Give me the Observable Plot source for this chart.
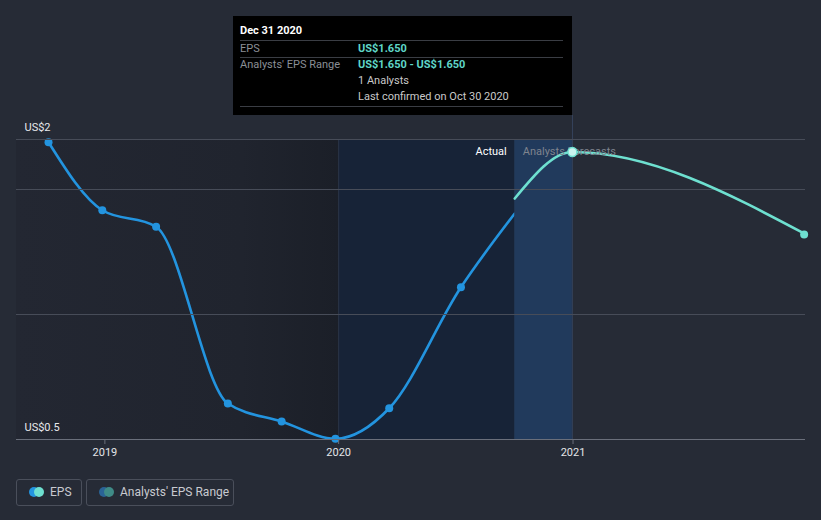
<!DOCTYPE html>
<html>
<head>
<meta charset="utf-8">
<script src="https://cdn.jsdelivr.net/npm/d3@7"></script>
<script src="https://cdn.jsdelivr.net/npm/@observablehq/plot@0.6"></script>
<style>
  html, body { margin: 0; padding: 0; background: #262b36; }
  body { width: 821px; height: 520px; position: relative; overflow: hidden; font-family: Roboto, "Noto Sans", sans-serif; }
  #chart { position: absolute; left: 0; top: 0; }
  #tip { position: absolute; left: 233px; top: 16px; width: 339px; height: 99px; background: #000; font-size: 11px; }
  #tip .row { position: absolute; left: 7px; right: 9px; }
  #tip .sep { position: absolute; left: 7px; right: 9px; height: 1px; background: #3a3d44; }
  #tip .lab { position: absolute; left: 0; color: #8b8f96; }
  #tip .val { position: absolute; left: 118px; color: #c9c9c9; }
  #tip .teal { color: #5fd6c8; font-weight: bold; }
  #hover { position: absolute; left: 572px; top: 115px; width: 1px; height: 24px; background: #34415a; }
  #legend { position: absolute; left: 0; top: 470px; width: 821px; height: 50px; }
  .lbox { position: absolute; top: 9px; height: 27px; border: 1px solid #4a4f5b; border-radius: 3px; color: #c8cad0; font-size: 12px; line-height: 25px; box-sizing: border-box; }
  .dot { position: absolute; top: 7px; width: 10px; height: 10px; border-radius: 5px; }
</style>
</head>
<body>
<div id="chart"></div>
<div id="hover"></div>
<div id="tip"></div>
<div id="legend"></div>
<script>
// ---- data ----
const actualDates = ["2018-10-05","2018-12-28","2019-03-22","2019-07-12","2019-10-04","2019-12-27","2020-03-20","2020-07-10","2020-10-02"];
const actualEPS   = [1.689, 1.417, 1.351, 0.644, 0.572, 0.503, 0.625, 1.109, 1.404];
const forecastDates = ["2020-10-02","2020-12-31","2021-12-31"];
const forecastEPS   = [1.464, 1.650, 1.320];
const gridValues = [0.5, 1.0, 1.5, 1.7];
const yTickValues = [1.7, 0.5];
const yTickLabels = ["US$2", "US$0.5"];
const xTickDates = ["2019-01-01","2020-01-01","2021-01-01"];
const regionPast = ["2018-08-16","2020-01-01"];
const regionRecent = ["2020-01-01","2020-10-02"];
const regionBand = ["2020-10-02","2020-12-31"];
const hoverDate = "2020-12-31";
const tooltipTitle = "Dec 31 2020";
const tooltipRows = [
  {label: "EPS", value: "US$1.650", teal: true},
  {label: "Analysts' EPS Range", value: "US$1.650 - US$1.650", teal: true},
  {label: "", value: "1 Analysts", teal: false},
  {label: "", value: "Last confirmed on Oct 30 2020", teal: false}
];
const legendItems = [
  {label: "EPS", c1: "#2394df", c2: "#6ee0d0"},
  {label: "Analysts' EPS Range", c1: "#2a6396", c2: "#3f8b87"}
];
const sectionLabels = [{text: "Actual"}, {text: "Analysts Forecasts"}];

// ---- build ----
const D = s => new Date(s + "T00:00:00Z");
const actual = actualDates.map((d, i) => ({date: D(d), eps: actualEPS[i]}));
const forecast = forecastDates.map((d, i) => ({date: D(d), eps: forecastEPS[i]}));
const regions = [
  {x1: D(regionPast[0]), x2: D(regionPast[1]), fill: "url(#pastGrad)"},
  {x1: D(regionRecent[0]), x2: D(regionRecent[1]), fill: "#172337"}
];
const band = [{x1: D(regionBand[0]), x2: D(regionBand[1])}];
const boundary = D(regionBand[0]);

const plot = Plot.plot({
  width: 821,
  height: 470,
  marginTop: 139,
  marginBottom: 31,
  marginLeft: 16,
  marginRight: 16,
  style: {background: "transparent", fontFamily: "Roboto, 'Noto Sans', sans-serif"},
  x: {type: "utc", domain: [D("2018-08-16"), D("2021-12-30")]},
  y: {domain: [0.5, 1.7], axis: null},
  marks: [
    Plot.rectX(regions, {x1: "x1", x2: "x2", fill: d => d.fill}),
    Plot.ruleX([D(regionRecent[0])], {stroke: "#2a3446", strokeWidth: 1}),
    Plot.line(actual, {x: "date", y: "eps", stroke: "#2394df", strokeWidth: 2.6, curve: "monotone-x"}),
    Plot.dot(actual.slice(0, -1), {x: "date", y: "eps", fill: "#2394df", r: 4}),
    Plot.rectX(band, {x1: "x1", x2: "x2", fill: "#213a5c"}),
    Plot.ruleX([D(hoverDate)], {stroke: "#34415a", strokeWidth: 1}),
    Plot.ruleY(gridValues.slice(1), {stroke: "#474c58", strokeWidth: 1}),
    Plot.ruleY([gridValues[0]], {stroke: "#6a6f7b", strokeWidth: 1}),
    Plot.axisX({ticks: xTickDates.map(D), tickFormat: "%Y", tickSize: 5, tickPadding: 4, stroke: "#6a6f7b", color: "#e4e5e8", fontSize: 11, label: null}),
    Plot.line(forecast, {x: "date", y: "eps", stroke: "#6ee0d0", strokeWidth: 2.6, curve: "monotone-x", clip: true}),
    Plot.text(yTickValues, {y: d => d, frameAnchor: "left", text: (d, i) => yTickLabels[i], textAnchor: "start", dx: 8, dy: -12, fill: "#e8e9ec", fontSize: 11}),
    Plot.text([sectionLabels[0]], {x: () => boundary, y: () => 1.7, text: "text", textAnchor: "end", dx: -8, dy: 12, fill: "#ffffff", fontSize: 11}),
    Plot.text([sectionLabels[1]], {x: () => boundary, y: () => 1.7, text: "text", textAnchor: "start", dx: 8, dy: 12, fill: "#7f848e", fontSize: 11}),
    Plot.dot(forecast.slice(1, 2), {x: "date", y: "eps", fill: "#c9f3ee", stroke: "#6ee0d0", strokeWidth: 1.5, r: 4.5}),
    Plot.dot(forecast.slice(2), {x: "date", y: "eps", fill: "#6ee0d0", r: 4, dx: -2})
  ]
});

// gradient for past region
const svg = d3.select(plot);
const defs = svg.insert("defs", ":first-child");
const g = defs.append("linearGradient").attr("id", "pastGrad").attr("x1", "0").attr("x2", "1").attr("y1", "0").attr("y2", "0");
g.append("stop").attr("offset", "0").attr("stop-color", "#232732");
g.append("stop").attr("offset", "0.7").attr("stop-color", "#20242e");
g.append("stop").attr("offset", "1").attr("stop-color", "#1b1f28");

document.getElementById("chart").appendChild(plot);

// tooltip
const tip = document.getElementById("tip");
const title = document.createElement("div");
title.className = "row";
title.style.top = "8px";
title.style.color = "#ffffff";
title.style.fontWeight = "bold";
title.textContent = tooltipTitle;
tip.appendChild(title);
const seps = [24, 41, 90];
seps.forEach(t => { const s = document.createElement("div"); s.className = "sep"; s.style.top = t + "px"; tip.appendChild(s); });
const rowTops = [25, 41, 57, 73];
tooltipRows.forEach((r, i) => {
  const row = document.createElement("div");
  row.className = "row";
  row.style.top = rowTops[i] + "px";
  row.style.height = "16px";
  row.style.lineHeight = "16px";
  const l = document.createElement("span"); l.className = "lab"; l.textContent = r.label;
  const v = document.createElement("span"); v.className = "val" + (r.teal ? " teal" : ""); v.textContent = r.value;
  row.appendChild(l); row.appendChild(v);
  tip.appendChild(row);
});

// legend
const legend = document.getElementById("legend");
const boxes = [{left: 16, width: 66}, {left: 86, width: 148}];
legendItems.forEach((it, i) => {
  const b = document.createElement("div");
  b.className = "lbox";
  b.style.left = boxes[i].left + "px";
  b.style.width = boxes[i].width + "px";
  const d1 = document.createElement("div"); d1.className = "dot"; d1.style.left = "12px"; d1.style.background = it.c1;
  const d2 = document.createElement("div"); d2.className = "dot"; d2.style.left = "17px"; d2.style.background = it.c2;
  const t = document.createElement("span"); t.style.position = "absolute"; t.style.left = "33px"; t.textContent = it.label;
  b.appendChild(d1); b.appendChild(d2); b.appendChild(t);
  legend.appendChild(b);
});
</script>
</body>
</html>
